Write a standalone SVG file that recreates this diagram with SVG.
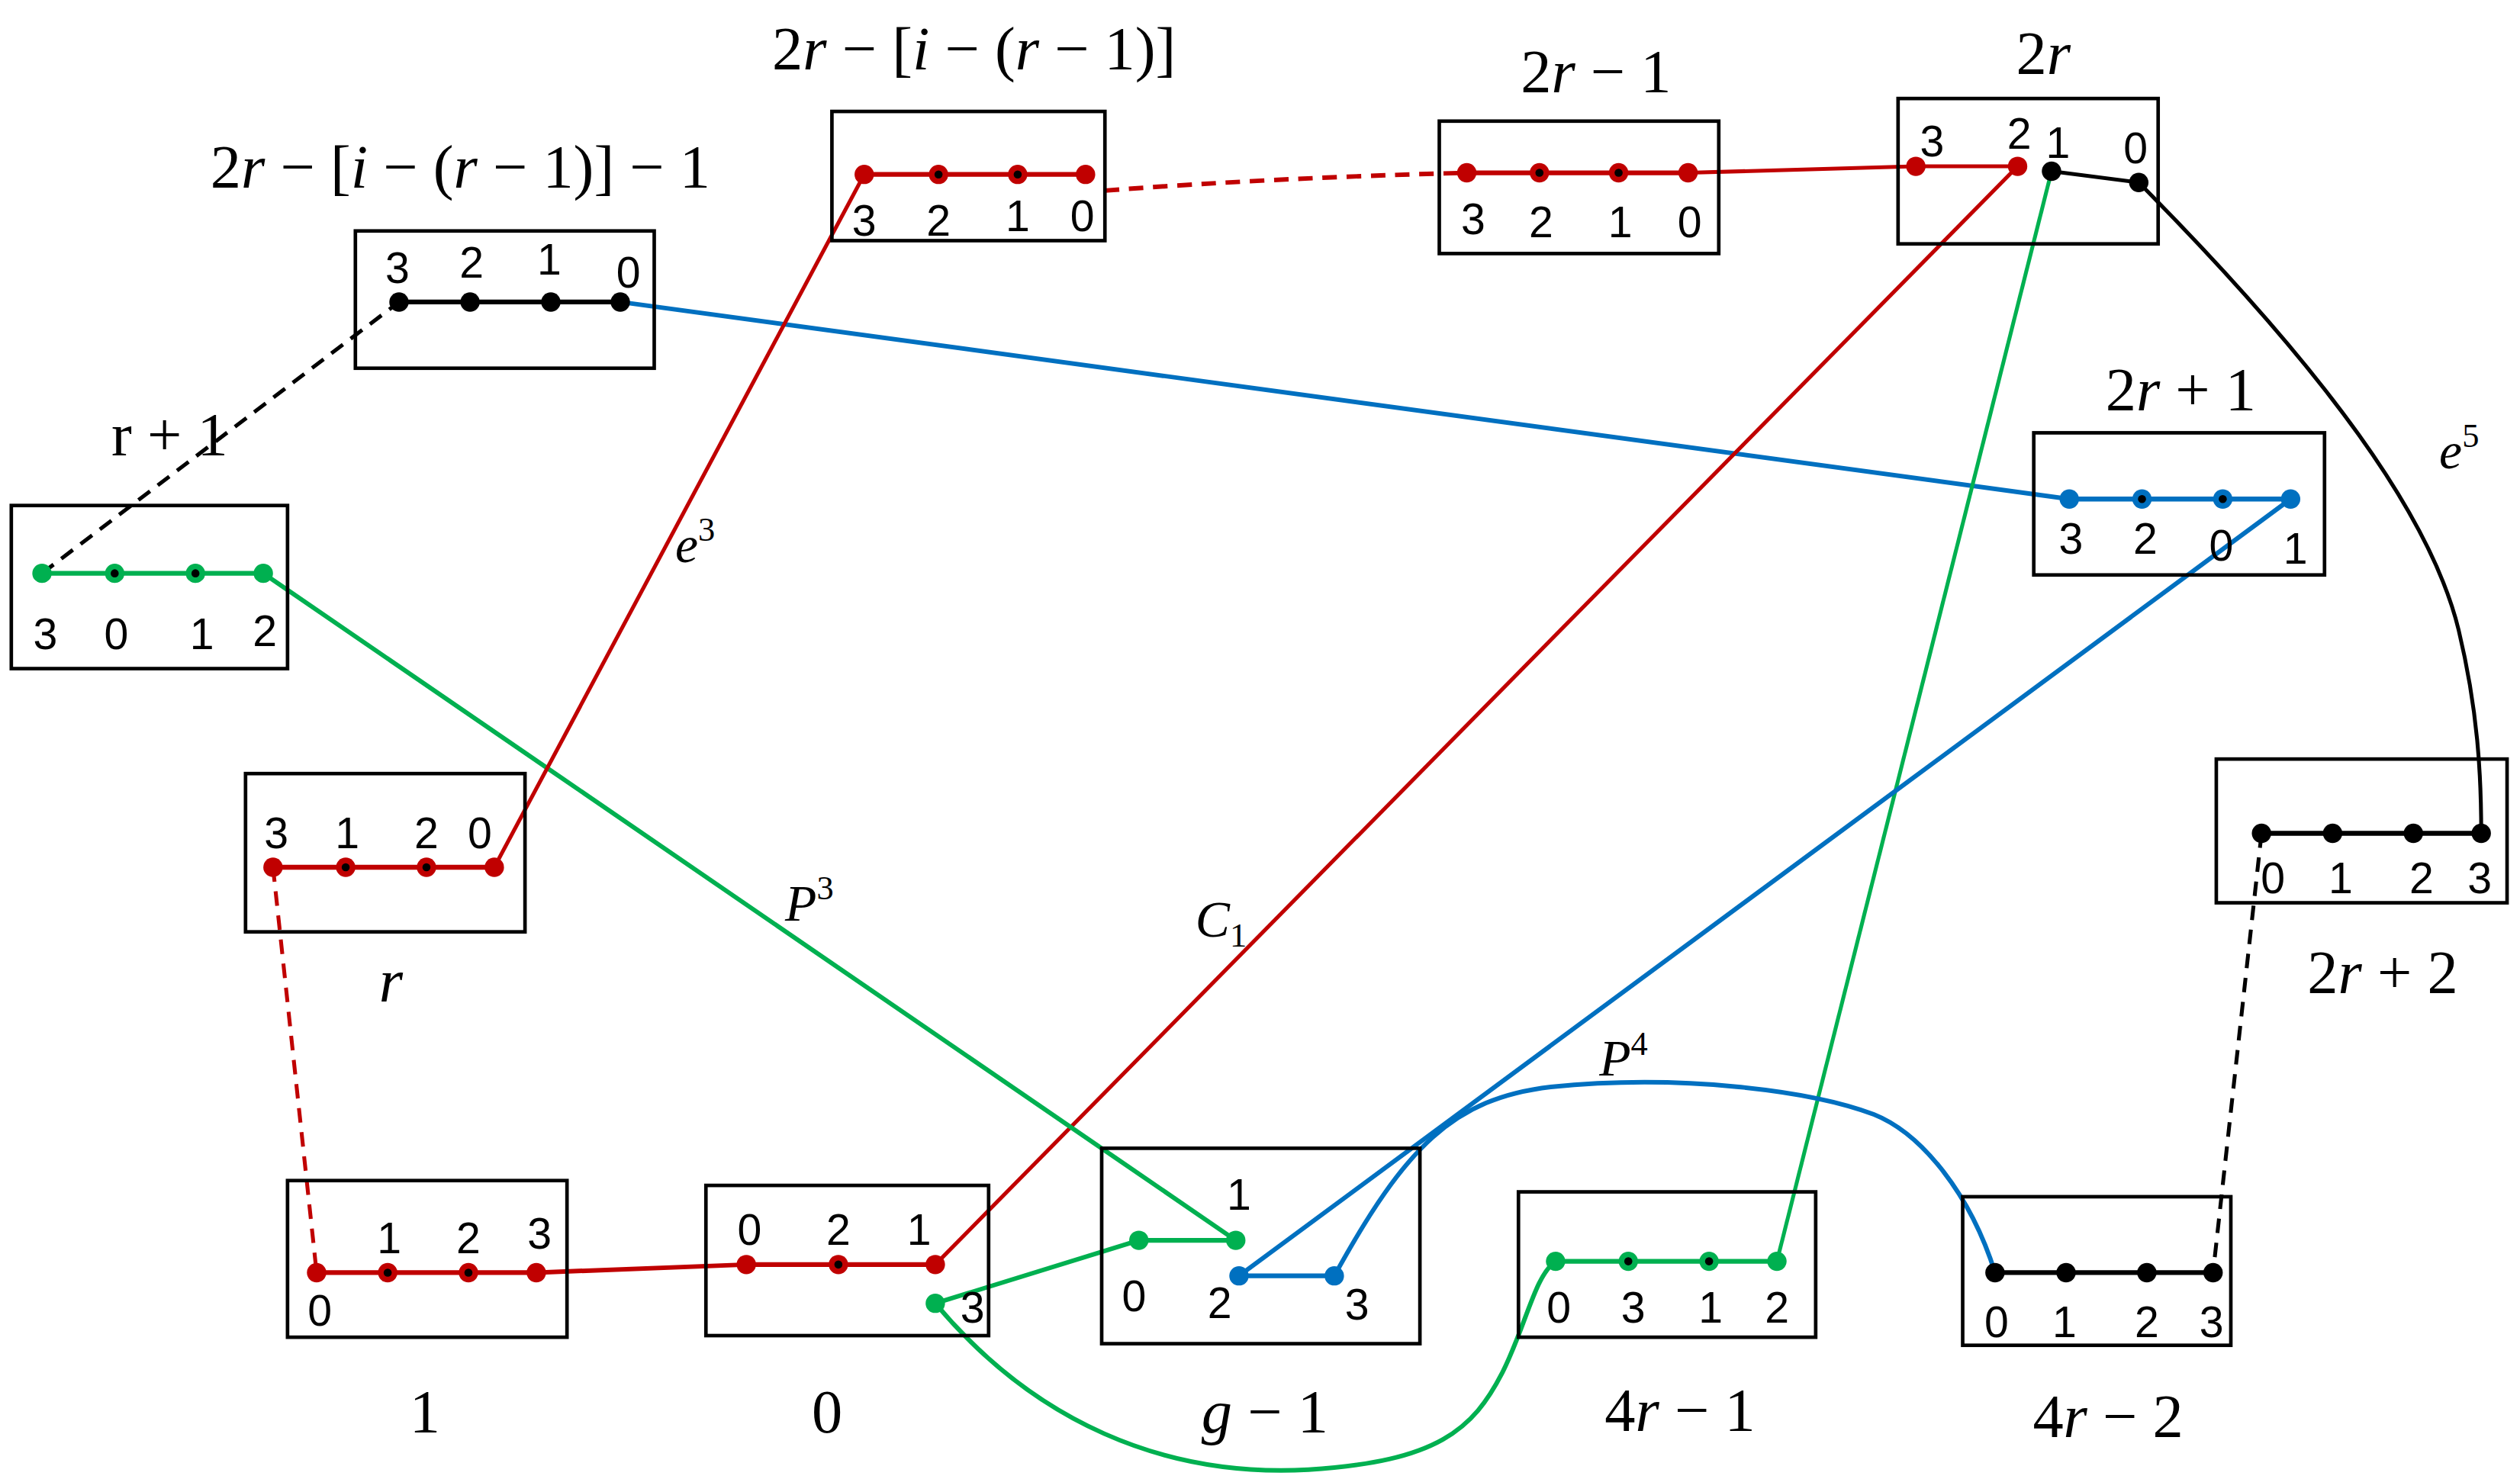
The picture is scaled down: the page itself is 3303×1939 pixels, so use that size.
<svg xmlns="http://www.w3.org/2000/svg" width="3303" height="1939" viewBox="0 0 3303 1939">
<style>
.box{fill:none;stroke:#000;stroke-width:2.2}
.t{font-family:"Liberation Serif",serif;font-size:38px;fill:#000;text-anchor:middle}
.i{font-style:italic}
.n{font-family:"Liberation Sans",sans-serif;font-size:27px;fill:#000;text-anchor:middle}
.r{stroke:#c00000;fill:none}
.g{stroke:#00b050;fill:none}
.b{stroke:#0070c0;fill:none}
.k{stroke:#000;fill:none}
.rd{fill:#c00000}.gd{fill:#00b050}.bd{fill:#0070c0}.kd{fill:#000}
</style>
<rect width="3303" height="1939" fill="#fff"/>
<g transform="scale(2.1173)">
<g id="connectors" stroke-width="2.4">
<line class="k" x1="26" y1="355" x2="247" y2="187" stroke-dasharray="9,6"/>
<line class="b" x1="384" y1="187" x2="1281" y2="309" stroke-width="2.8"/>
<path class="r" d="M684 118 Q790 110 908 107" stroke-dasharray="9,6" stroke-width="2.8"/>
<line class="r" x1="1045" y1="107" x2="1186" y2="103"/>
<line class="k" x1="1270" y1="106" x2="1324" y2="113"/>
<path class="k" d="M1324 113 C1440 230 1505 320 1522 390 C1534 440 1536 480 1536 516"/>
<line class="r" x1="1249" y1="103" x2="579" y2="783"/>
<line class="g" x1="1270" y1="106" x2="1100" y2="781"/>
<line class="b" x1="1418" y1="309" x2="767" y2="790" stroke-width="2.8"/>
<line class="g" x1="163" y1="355" x2="765" y2="768" stroke-width="2.8"/>
<line class="r" x1="306" y1="537" x2="535" y2="108"/>
<line class="r" x1="169" y1="537" x2="196" y2="788" stroke-dasharray="9,6"/>
<line class="r" x1="332" y1="788" x2="462" y2="783" stroke-width="2.8"/>
<line class="g" x1="579" y1="807" x2="705" y2="768" stroke-width="2.8"/>
<path class="g" d="M579 807 C640 880 720 915 810 910 C890 905 912 885 930 850 C945 820 950 790 963 781" stroke-width="2.8"/>
<path class="b" d="M826 790 C870 710 900 680 960 673 C1040 665 1120 675 1160 690 C1190 702 1220 740 1235 788" stroke-width="2.8"/>
<line class="k" x1="1400" y1="516" x2="1370" y2="788" stroke-dasharray="9,6"/>
</g>
<g id="n_a">
<rect class="box" x="220" y="143" width="185" height="85"/>
<line class="k" x1="247" y1="187" x2="384" y2="187" stroke-width="3"/>
<g class="kd"><circle cx="247" cy="187" r="6"/><circle cx="291" cy="187" r="6"/><circle cx="341" cy="187" r="6"/><circle cx="384" cy="187" r="6"/></g>
<text class="n" x="246" y="175">3</text><text class="n" x="292" y="172">2</text><text class="n" x="340" y="170">1</text><text class="n" x="389" y="178">0</text>
<text class="t" x="285" y="116">2<tspan class="i">r</tspan> − [<tspan class="i">i</tspan> − (<tspan class="i">r</tspan> − 1)] − 1</text>
</g>
<g id="n_b">
<rect class="box" x="515" y="69" width="169" height="80"/>
<line class="r" x1="535" y1="108" x2="672" y2="108" stroke-width="3"/>
<g class="rd"><circle cx="535" cy="108" r="6"/><circle cx="581" cy="108" r="6"/><circle cx="630" cy="108" r="6"/><circle cx="672" cy="108" r="6"/></g>
<g class="kd"><circle cx="581" cy="108" r="2.5"/><circle cx="630" cy="108" r="2.5"/></g>
<text class="n" x="535" y="146">3</text><text class="n" x="581" y="146">2</text><text class="n" x="630" y="143">1</text><text class="n" x="670" y="143">0</text>
<text class="t" x="603" y="43">2<tspan class="i">r</tspan> − [<tspan class="i">i</tspan> − (<tspan class="i">r</tspan> − 1)]</text>
</g>
<g id="n_c">
<rect class="box" x="891" y="75" width="173" height="82"/>
<line class="r" x1="908" y1="107" x2="1045" y2="107" stroke-width="3"/>
<g class="rd"><circle cx="908" cy="107" r="6"/><circle cx="953" cy="107" r="6"/><circle cx="1002" cy="107" r="6"/><circle cx="1045" cy="107" r="6"/></g>
<g class="kd"><circle cx="953" cy="107" r="2.5"/><circle cx="1002" cy="107" r="2.5"/></g>
<text class="n" x="912" y="145">3</text><text class="n" x="954" y="147">2</text><text class="n" x="1003" y="147">1</text><text class="n" x="1046" y="147">0</text>
<text class="t" x="988" y="57">2<tspan class="i">r</tspan> − 1</text>
</g>
<g id="n_d">
<rect class="box" x="1175" y="61" width="161" height="90"/>
<line class="r" x1="1186" y1="103" x2="1249" y2="103" stroke-width="2.4"/>
<g class="rd"><circle cx="1186" cy="103" r="6"/><circle cx="1249" cy="103" r="6"/></g>
<g class="kd"><circle cx="1270" cy="106" r="6"/><circle cx="1324" cy="113" r="6"/></g>
<text class="n" x="1196" y="97">3</text><text class="n" x="1250" y="92">2</text><text class="n" x="1274" y="98">1</text><text class="n" x="1322" y="101">0</text>
<text class="t" x="1265" y="46">2<tspan class="i">r</tspan></text>
</g>
<g id="n_e">
<rect class="box" x="1259" y="268" width="180" height="88"/>
<line class="b" x1="1281" y1="309" x2="1418" y2="309" stroke-width="3"/>
<g class="bd"><circle cx="1281" cy="309" r="6"/><circle cx="1326" cy="309" r="6"/><circle cx="1376" cy="309" r="6"/><circle cx="1418" cy="309" r="6"/></g>
<g class="kd"><circle cx="1326" cy="309" r="2.5"/><circle cx="1376" cy="309" r="2.5"/></g>
<text class="n" x="1282" y="343">3</text><text class="n" x="1328" y="343">2</text><text class="n" x="1375" y="347">0</text><text class="n" x="1421" y="349">1</text>
<text class="t" x="1350" y="254">2<tspan class="i">r</tspan> + 1</text>
</g>
<g id="n_f">
<rect class="box" x="7" y="313" width="171" height="101"/>
<line class="g" x1="26" y1="355" x2="163" y2="355" stroke-width="3"/>
<g class="gd"><circle cx="26" cy="355" r="6"/><circle cx="71" cy="355" r="6"/><circle cx="121" cy="355" r="6"/><circle cx="163" cy="355" r="6"/></g>
<g class="kd"><circle cx="71" cy="355" r="2.5"/><circle cx="121" cy="355" r="2.5"/></g>
<text class="n" x="28" y="402">3</text><text class="n" x="72" y="402">0</text><text class="n" x="125" y="402">1</text><text class="n" x="164" y="400">2</text>
<text class="t" x="105" y="282">r + 1</text>
</g>
<g id="n_g">
<rect class="box" x="152" y="479" width="173" height="98"/>
<line class="r" x1="169" y1="537" x2="306" y2="537" stroke-width="3"/>
<g class="rd"><circle cx="169" cy="537" r="6"/><circle cx="214" cy="537" r="6"/><circle cx="264" cy="537" r="6"/><circle cx="306" cy="537" r="6"/></g>
<g class="kd"><circle cx="214" cy="537" r="2.5"/><circle cx="264" cy="537" r="2.5"/></g>
<text class="n" x="171" y="525">3</text><text class="n" x="215" y="525">1</text><text class="n" x="264" y="525">2</text><text class="n" x="297" y="525">0</text>
<text class="t i" x="242" y="620">r</text>
</g>
<g id="n_h">
<rect class="box" x="1372" y="470" width="180" height="89"/>
<line class="k" x1="1400" y1="516" x2="1536" y2="516" stroke-width="3"/>
<g class="kd"><circle cx="1400" cy="516" r="6"/><circle cx="1444" cy="516" r="6"/><circle cx="1494" cy="516" r="6"/><circle cx="1536" cy="516" r="6"/></g>
<text class="n" x="1407" y="553">0</text><text class="n" x="1449" y="553">1</text><text class="n" x="1499" y="553">2</text><text class="n" x="1535" y="553">3</text>
<text class="t" x="1475" y="615">2<tspan class="i">r</tspan> + 2</text>
</g>
<g id="n_i">
<rect class="box" x="178" y="731" width="173" height="97"/>
<line class="r" x1="196" y1="788" x2="332" y2="788" stroke-width="3"/>
<g class="rd"><circle cx="196" cy="788" r="6"/><circle cx="240" cy="788" r="6"/><circle cx="290" cy="788" r="6"/><circle cx="332" cy="788" r="6"/></g>
<g class="kd"><circle cx="240" cy="788" r="2.5"/><circle cx="290" cy="788" r="2.5"/></g>
<text class="n" x="198" y="821">0</text><text class="n" x="241" y="776">1</text><text class="n" x="290" y="776">2</text><text class="n" x="334" y="773">3</text>
<text class="t" x="263" y="887">1</text>
</g>
<g id="n_j">
<rect class="box" x="437" y="734" width="175" height="93"/>
<line class="r" x1="462" y1="783" x2="579" y2="783" stroke-width="3"/>
<g class="rd"><circle cx="462" cy="783" r="6"/><circle cx="519" cy="783" r="6"/><circle cx="579" cy="783" r="6"/></g>
<g class="kd"><circle cx="519" cy="783" r="2.5"/></g>
<circle class="gd" cx="579" cy="807" r="6"/>
<text class="n" x="464" y="771">0</text><text class="n" x="519" y="771">2</text><text class="n" x="569" y="771">1</text><text class="n" x="602" y="819">3</text>
<text class="t" x="512" y="887">0</text>
</g>
<g id="n_k">
<rect class="box" x="682" y="711" width="197" height="121"/>
<line class="g" x1="705" y1="768" x2="765" y2="768" stroke-width="3"/>
<line class="b" x1="767" y1="790" x2="826" y2="790" stroke-width="3"/>
<g class="gd"><circle cx="705" cy="768" r="6"/><circle cx="765" cy="768" r="6"/></g>
<g class="bd"><circle cx="767" cy="790" r="6"/><circle cx="826" cy="790" r="6"/></g>
<text class="n" x="767" y="749">1</text><text class="n" x="702" y="812">0</text><text class="n" x="755" y="816">2</text><text class="n" x="840" y="817">3</text>
<text class="t" x="783" y="887"><tspan class="i">g</tspan> − 1</text>
</g>
<g id="n_l">
<rect class="box" x="940" y="738" width="184" height="90"/>
<line class="g" x1="963" y1="781" x2="1100" y2="781" stroke-width="3"/>
<g class="gd"><circle cx="963" cy="781" r="6"/><circle cx="1008" cy="781" r="6"/><circle cx="1058" cy="781" r="6"/><circle cx="1100" cy="781" r="6"/></g>
<g class="kd"><circle cx="1008" cy="781" r="2.5"/><circle cx="1058" cy="781" r="2.5"/></g>
<text class="n" x="965" y="819">0</text><text class="n" x="1011" y="819">3</text><text class="n" x="1059" y="819">1</text><text class="n" x="1100" y="819">2</text>
<text class="t" x="1040" y="886">4<tspan class="i">r</tspan> − 1</text>
</g>
<g id="n_m">
<rect class="box" x="1215" y="741" width="166" height="92"/>
<line class="k" x1="1235" y1="788" x2="1370" y2="788" stroke-width="3"/>
<g class="kd"><circle cx="1235" cy="788" r="6"/><circle cx="1279" cy="788" r="6"/><circle cx="1329" cy="788" r="6"/><circle cx="1370" cy="788" r="6"/></g>
<text class="n" x="1236" y="828">0</text><text class="n" x="1278" y="828">1</text><text class="n" x="1329" y="828">2</text><text class="n" x="1369" y="828">3</text>
<text class="t" x="1305" y="890">4<tspan class="i">r</tspan> − 2</text>
</g>
<g id="labels" font-family="Liberation Serif, serif" font-style="italic" font-size="32">
<text x="418" y="348">e<tspan font-size="21" dy="-13" font-style="normal">3</tspan></text>
<text x="486" y="570">P<tspan font-size="21" dy="-13" font-style="normal">3</tspan></text>
<text x="740" y="580">C<tspan font-size="21" dy="6" font-style="normal">1</tspan></text>
<text x="990" y="666">P<tspan font-size="21" dy="-13" font-style="normal">4</tspan></text>
<text x="1510" y="290">e<tspan font-size="21" dy="-13" font-style="normal">5</tspan></text>
</g>
</g>
</svg>
